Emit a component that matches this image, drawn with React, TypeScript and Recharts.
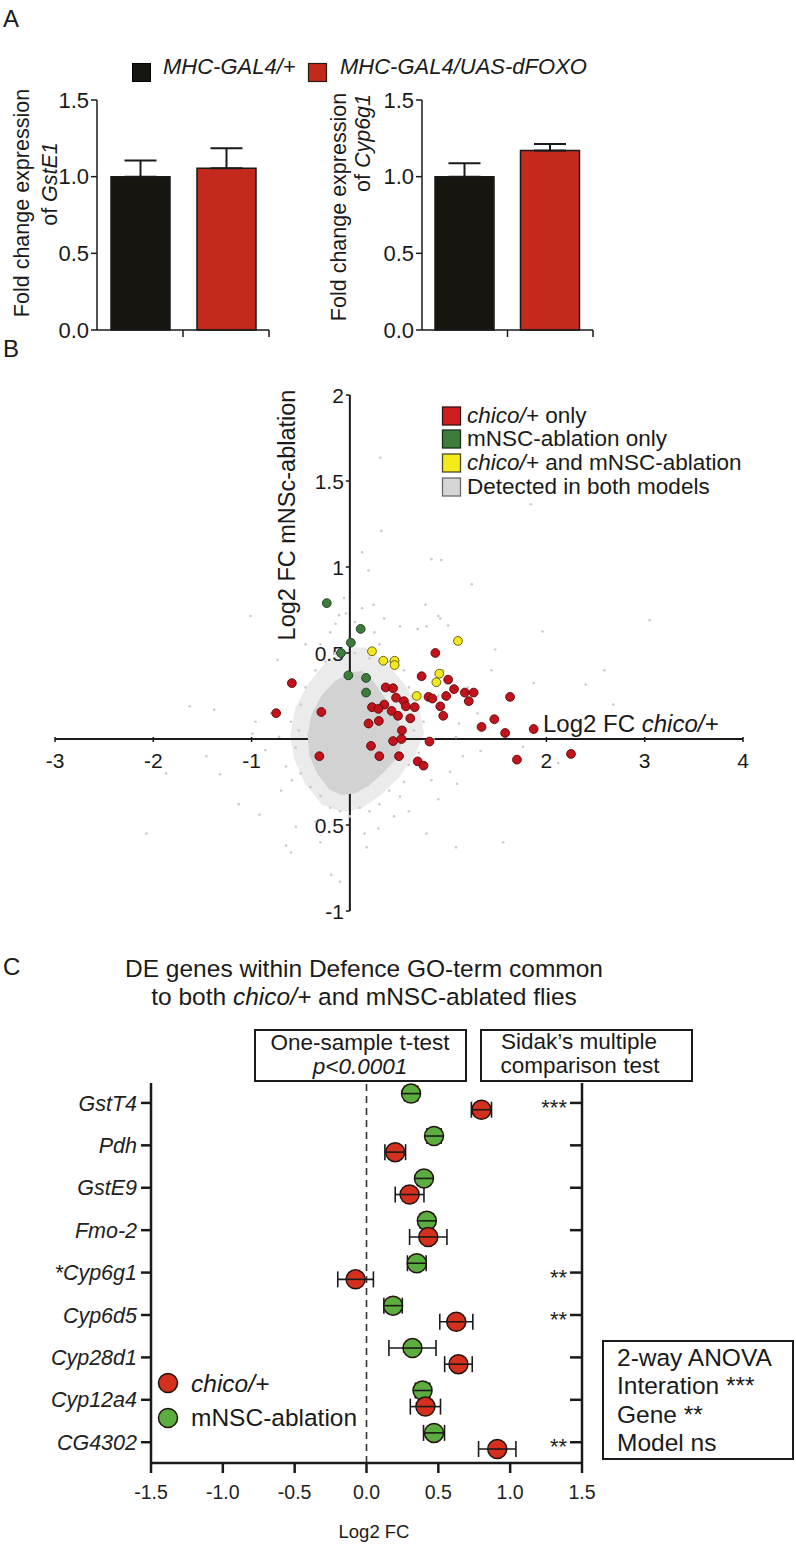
import React from 'react';
import {
  BarChart, Bar, XAxis, YAxis, ErrorBar, Cell,
  ScatterChart, Scatter, ReferenceLine,
} from 'recharts';

const FONT = "'Liberation Sans', Arial, Helvetica, sans-serif";
const INK = '#1a1a1a';

// ---------------- Panel A data ----------------
const groupsA = ['MHC-GAL4/+', 'MHC-GAL4/UAS-dFOXO'];
const gstE1Mean = [1.0, 1.055];
const gstE1Sem = [0.105, 0.13];
const cyp6g1Mean = [1.0, 1.17];
const cyp6g1Sem = [0.087, 0.043];
const yTicksA = [0, 0.5, 1.0, 1.5];
const groupColorsA = ['#17150f', '#c42a1b'];

// ---------------- Panel B data (log2 FC chico/+ , log2 FC mNSC-ablation) ----------------
const chicoOnly: number[][] = [
  [0.87, 0.50], [-0.59, 0.325], [0.73, 0.365], [1.00, 0.345], [0.365, 0.30], [0.44, 0.295],
  [1.06, 0.29], [1.17, 0.27], [1.26, 0.27], [1.63, 0.245], [0.80, 0.245], [0.84, 0.235],
  [0.98, 0.25], [1.21, 0.22], [0.47, 0.24], [0.55, 0.22], [0.57, 0.19], [0.66, 0.185],
  [0.92, 0.19], [0.35, 0.20], [0.225, 0.185], [0.29, 0.175], [0.425, 0.163], [0.49, 0.135],
  [0.615, 0.12], [0.95, 0.135], [0.295, 0.105], [0.19, 0.09], [0.53, 0.05], [-0.29, 0.157],
  [-0.75, 0.15], [1.47, 0.115], [1.34, 0.07], [1.58, 0.035], [1.87, 0.058], [0.44, -0.012],
  [0.525, 0.0], [0.81, -0.015], [0.215, -0.04], [-0.31, -0.10], [0.30, -0.10], [0.50, -0.10],
  [0.69, -0.13], [0.75, -0.155], [1.70, -0.12], [2.25, -0.087],
];
const mnscOnly: number[][] = [
  [-0.235, 0.79], [0.11, 0.64], [0.01, 0.56], [-0.09, 0.50], [-0.015, 0.37], [0.165, 0.355], [0.165, 0.27],
];
const bothModels: number[][] = [
  [1.10, 0.57], [0.225, 0.51], [0.34, 0.455], [0.455, 0.455], [0.455, 0.43], [0.91, 0.38], [0.88, 0.33], [0.68, 0.25],
];
const detectedDots: number[][] = [
  [0.31, 1.635], [1.84, 1.365], [0.32, 1.21], [0.125, 1.085], [0.83, 1.045], [0.93, 1.04], [0.19, 0.98],
  [1.24, 0.90], [-1.01, 0.715], [-0.06, 0.82], [0.24, 0.78], [0.77, 0.78], [0.90, 0.715], [0.92, 0.70],
  [1.0, 0.66], [0.51, 0.655], [0.69, 0.64], [0.78, 0.655], [-0.11, 0.72], [-0.04, 0.73], [-0.145, 0.67],
  [0.125, 0.76], [-2.07, -0.55], [-1.87, -0.20], [-1.63, 0.19], [-1.32, -0.205], [-1.38, 0.17],
  [-1.13, -0.38], [-0.92, -0.44], [-0.735, 0.46], [-0.65, -0.62], [-0.6, -0.66], [-0.55, -0.51],
  [-0.19, -0.79], [-0.10, -0.83], [0.17, -0.63], [0.29, -0.52], [0.78, -0.55], [1.08, -0.63],
  [1.56, -0.60], [1.96, 0.625], [2.59, 0.40], [3.05, 0.69], [2.40, 0.315], [1.87, 0.325], [1.48, 0.52],
  [1.44, 0.40], [1.76, -0.045], [1.33, -0.07], [1.08, 0.01], [-1.46, -0.10], [-0.99, 0.03], [-0.96, 0.10],
  [-0.86, -0.065], [-0.72, 0.013], [-0.65, -0.16], [-0.59, -0.24], [-0.52, 0.05], [2.68, 0.20],
  [2.12, -0.14], [1.11, 0.09], [1.02, -0.19], [1.09, -0.26], [0.51, -0.335], [0.83, -0.24],
  [-0.5, 0.2], [-0.45, 0.3], [-0.35, 0.4], [-0.25, 0.45], [-0.15, 0.5], [-0.3, 0.55], [0.05, 0.5],
  [0.2, 0.47], [0.3, 0.55], [0.4, 0.45], [0.55, 0.4], [0.6, 0.3], [0.7, 0.35], [0.65, 0.05], [0.75, 0.1],
  [0.85, 0.0], [0.7, -0.08], [0.6, -0.15], [0.55, -0.25], [0.4, -0.3], [0.3, -0.38], [0.2, -0.42],
  [0.1, -0.4], [0.0, -0.45], [-0.1, -0.42], [-0.2, -0.4], [-0.3, -0.33], [-0.4, -0.28], [-0.5, -0.2],
  [-0.55, -0.05], [-0.6, 0.1], [-0.7, -0.3], [-0.8, 0.15], [0.9, 0.25], [0.95, 0.4], [1.2, 0.3],
  [1.3, 0.15], [0.0, 0.58], [-0.2, 0.62], [0.45, -0.45], [0.6, -0.42], [-0.35, -0.48], [0.15, -0.55],
  [0.35, 0.7], [0.05, 0.68], [1.15, -0.1], [0.9, -0.35], [-0.45, 0.55], [-0.3, -0.6], [0.25, 0.62],
];
// outline of the dense cloud of detected genes
const cloudCore: number[][] = [
  [-0.42, 0.02], [-0.38, 0.14], [-0.28, 0.25], [-0.15, 0.33], [0.0, 0.38], [0.12, 0.39], [0.22, 0.34],
  [0.32, 0.26], [0.42, 0.17], [0.5, 0.08], [0.52, -0.02], [0.45, -0.12], [0.32, -0.2], [0.18, -0.27],
  [0.05, -0.31], [-0.08, -0.32], [-0.2, -0.29], [-0.32, -0.2], [-0.4, -0.1],
];
const cloudHalo: number[][] = [
  [-0.6, 0.02], [-0.55, 0.18], [-0.42, 0.32], [-0.25, 0.44], [-0.05, 0.52], [0.15, 0.53], [0.35, 0.45],
  [0.55, 0.32], [0.7, 0.18], [0.75, 0.03], [0.65, -0.1], [0.5, -0.22], [0.32, -0.32], [0.12, -0.4],
  [-0.08, -0.42], [-0.28, -0.38], [-0.45, -0.26], [-0.56, -0.12],
];
const xTicksB = [-3, -2, -1, 2, 3, 4];
const xTickLabelsB = ['-3', '-2', '-1', '2', '3', '4'];
const yTicksB = [2, 1.5, 1, 0.5, -0.5, -1];
const yTickLabelsB = ['2', '1.5', '1', '0.5', '0.5', '-1'];
const xDomainB = [-3, 4];
const yDomainB = [-1, 2];

// ---------------- Panel C data ----------------
const genes = ['GstT4', 'Pdh', 'GstE9', 'Fmo-2', '*Cyp6g1', 'Cyp6d5', 'Cyp28d1', 'Cyp12a4', 'CG4302'];
const chicoFC = [0.80, 0.20, 0.30, 0.43, -0.076, 0.625, 0.64, 0.41, 0.91];
const chicoSEM = [0.07, 0.072, 0.10, 0.13, 0.124, 0.115, 0.096, 0.105, 0.13];
const mnscFC = [0.31, 0.47, 0.40, 0.42, 0.35, 0.185, 0.32, 0.39, 0.47];
const mnscSEM = [0.045, 0.049, 0.035, 0.045, 0.065, 0.064, 0.164, 0.05, 0.073];
const sidak = ['***', '', '', '', '**', '**', '', '', '**'];
const xTicksC = [-1.5, -1.0, -0.5, 0, 0.5, 1.0, 1.5];

const toPts = (arr: number[][]) => arr.map(([x, y]) => ({ x, y }));

// ---------------- Panel A ----------------
function FoldBar({ left, width, plotLeft, plotRight, means, sems }: any) {
  const data = groupsA.map((name, i) => ({ name, mean: means[i], err: [0, sems[i]] }));
  const halfBand = (plotRight - plotLeft) / (2 * groupsA.length);
  const BoundaryTick = (p: any) => (
    <line x1={p.x + halfBand} y1={p.y} x2={p.x + halfBand} y2={p.y + 7} stroke={INK} strokeWidth={1.5} />
  );
  return (
    <div style={{ position: 'absolute', left, top: 80 }}>
      <BarChart width={width} height={280} data={data}
        margin={{ top: 20, right: width - plotRight, bottom: 0, left: 0 }}>
        <XAxis dataKey="name" height={30} interval={0} tickLine={false} tickSize={0} tickMargin={0}
          tick={BoundaryTick} axisLine={{ stroke: INK, strokeWidth: 1.5 }} />
        <YAxis type="number" domain={[0, 1.5]} ticks={yTicksA} width={plotLeft} interval={0}
          tickFormatter={(v: number) => v.toFixed(1)} tickSize={6} tickMargin={2}
          tick={{ fontSize: 22, fill: INK, fontFamily: FONT }}
          axisLine={{ stroke: INK, strokeWidth: 1.5 }} tickLine={{ stroke: INK, strokeWidth: 1.5 }} />
        <Bar dataKey="mean" barSize={59} stroke={INK} strokeWidth={1.5} isAnimationActive={false}>
          {data.map((d, i) => <Cell key={d.name} fill={groupColorsA[i]} />)}
          <ErrorBar dataKey="err" width={16} stroke={INK} strokeWidth={2} direction="y" />
        </Bar>
      </BarChart>
    </div>
  );
}

// ---------------- Panel B ----------------
const noShape = () => <g />;
const XTickMark = (p: any) => (
  <g>
    <line x1={p.cx} y1={p.cy - 2} x2={p.cx} y2={p.cy + 3} stroke={INK} strokeWidth={1.5} />
    <text x={p.cx} y={p.cy + 29} textAnchor="middle" fontSize={21} fill={INK} fontFamily={FONT}>
      {p.payload?.label ?? p.label}
    </text>
  </g>
);
const YTickMark = (p: any) => (
  <g>
    <line x1={p.cx - 4} y1={p.cy} x2={p.cx} y2={p.cy} stroke={INK} strokeWidth={1.5} />
    <text x={p.cx - 6} y={p.cy + 7.5} textAnchor="end" fontSize={21} fill={INK} fontFamily={FONT}>
      {p.payload?.label ?? p.label}
    </text>
  </g>
);
const grayDot = (p: any) => <circle cx={p.cx} cy={p.cy} r={1.3} fill="#cbcbcb" />;
const mkDot = (fill: string, stroke: string) => (p: any) =>
  <circle cx={p.cx} cy={p.cy} r={4.4} fill={fill} stroke={stroke} strokeWidth={0.9} />;

function PanelB() {
  const xAxisLine = [{ x: xDomainB[0], y: 0 }, { x: xDomainB[1], y: 0 }];
  const yAxisLine = [{ x: 0, y: yDomainB[0] }, { x: 0, y: yDomainB[1] }];
  const xTickData = xTicksB.map((v, i) => ({ x: v, y: 0, label: xTickLabelsB[i] }));
  const yTickData = yTicksB.map((v, i) => ({ x: 0, y: v, label: yTickLabelsB[i] }));
  return (
    <div style={{ position: 'absolute', left: 0, top: 340 }}>
      <ScatterChart width={796} height={600} margin={{ top: 55, right: 53, bottom: 29, left: 55 }}>
        <XAxis type="number" dataKey="x" domain={xDomainB} hide />
        <YAxis type="number" dataKey="y" domain={yDomainB} hide />
        <Scatter data={toPts(cloudHalo)} shape={noShape} lineJointType="linearClosed"
          line={{ stroke: '#ebebeb', fill: '#ebebeb', strokeWidth: 1 }} isAnimationActive={false} />
        <Scatter data={xAxisLine} shape={noShape} line={{ stroke: INK, strokeWidth: 2 }} isAnimationActive={false} />
        <Scatter data={yAxisLine} shape={noShape} line={{ stroke: INK, strokeWidth: 2 }} isAnimationActive={false} />
        <Scatter data={xTickData} shape={XTickMark} isAnimationActive={false} />
        <Scatter data={yTickData} shape={YTickMark} isAnimationActive={false} />
        <Scatter data={toPts(cloudCore)} shape={noShape} lineJointType="linearClosed"
          line={{ stroke: '#d2d2d2', fill: '#d2d2d2', strokeWidth: 2 }} isAnimationActive={false} />
        <Scatter data={toPts(detectedDots)} shape={grayDot} isAnimationActive={false} />
        <Scatter data={toPts(chicoOnly)} shape={mkDot('#c3121c', '#5a0a0a')} isAnimationActive={false} />
        <Scatter data={toPts(mnscOnly)} shape={mkDot('#3e7c3c', '#1c3a1c')} isAnimationActive={false} />
        <Scatter data={toPts(bothModels)} shape={mkDot('#f3e71e', '#5e5800')} isAnimationActive={false} />
      </ScatterChart>
    </div>
  );
}

// ---------------- Panel C ----------------
const GREEN_OFFSET = -0.22;
const RED_OFFSET = 0.16;
const mkBall = (fill: string) => (p: any) => (
  <g>
    <circle cx={p.cx} cy={p.cy} r={9.5} fill={fill} stroke="#24140e" strokeWidth={1.5} />
    <line x1={p.cx - 9.5} y1={p.cy} x2={p.cx + 9.5} y2={p.cy} stroke={INK} strokeWidth={1.6} />
  </g>
);
const SidakTick = (p: any) => {
  const idx = Math.round(p.payload?.value ?? 0);
  const label = sidak[idx] || '';
  return (
    <g>
      <line x1={p.x - 12} y1={p.y} x2={p.x} y2={p.y} stroke={INK} strokeWidth={2.5} />
      {label ? (
        <text x={p.x - 15} y={p.y + 12} textAnchor="end" fontSize={22} fill="#222" fontFamily={FONT}>{label}</text>
      ) : null}
    </g>
  );
};

function PanelC() {
  const chicoData = genes.map((g, i) => ({ gene: g, x: chicoFC[i], y: i + RED_OFFSET, err: chicoSEM[i] }));
  const mnscData = genes.map((g, i) => ({ gene: g, x: mnscFC[i], y: i + GREEN_OFFSET, err: mnscSEM[i] }));
  const geneTicks = genes.map((_, i) => i);
  const yDomain = [-0.47, 8.49];
  return (
    <div style={{ position: 'absolute', left: 0, top: 1020 }}>
      <ScatterChart width={796} height={526} margin={{ top: 63, right: 174, bottom: 43, left: 0 }}>
        <XAxis type="number" dataKey="x" domain={[-1.5, 1.5]} ticks={xTicksC} interval={0} allowDataOverflow
          tickFormatter={(v: number) => v.toFixed(1)} height={40} tickSize={10} tickMargin={12}
          tick={{ fontSize: 19.5, fill: '#222', fontFamily: FONT }}
          axisLine={{ stroke: INK, strokeWidth: 2.5 }} tickLine={{ stroke: INK, strokeWidth: 2.5 }} />
        <YAxis yAxisId="left" type="number" dataKey="y" domain={yDomain} reversed ticks={geneTicks}
          interval={0} allowDataOverflow width={151} tickSize={10} tickMargin={4}
          tickFormatter={(v: number) => genes[Math.round(v)]}
          tick={{ fontSize: 21.5, fill: '#222', fontStyle: 'italic', fontFamily: FONT }}
          axisLine={{ stroke: INK, strokeWidth: 2.5 }} tickLine={{ stroke: INK, strokeWidth: 2.5 }} />
        <YAxis yAxisId="right" orientation="right" type="number" domain={yDomain} reversed ticks={geneTicks}
          interval={0} allowDataOverflow width={40} tickSize={0} tickMargin={0} tickLine={false}
          tick={SidakTick} axisLine={{ stroke: INK, strokeWidth: 2.5 }} />
        <ReferenceLine yAxisId="left" x={0} stroke="#333" strokeWidth={1.6} strokeDasharray="7 5" />
        <Scatter yAxisId="left" data={mnscData} shape={mkBall('#5aad3e')} isAnimationActive={false}>
          <ErrorBar dataKey="err" direction="x" width={8} stroke={INK} strokeWidth={1.6} />
        </Scatter>
        <Scatter yAxisId="left" data={chicoData} shape={mkBall('#d5301e')} isAnimationActive={false}>
          <ErrorBar dataKey="err" direction="x" width={8} stroke={INK} strokeWidth={1.6} />
        </Scatter>
      </ScatterChart>
    </div>
  );
}

// ---------------- Text overlay ----------------
function Overlay() {
  const t = { fontFamily: FONT, fill: INK } as any;
  return (
    <svg width={796} height={1546} style={{ position: 'absolute', left: 0, top: 0, pointerEvents: 'none' }}>
      {/* Panel A */}
      <text x={3} y={27} fontSize={24} {...t}>A</text>
      <rect x={132.5} y={63.5} width={18} height={18} fill={groupColorsA[0]} stroke="#000" strokeWidth={1} />
      <text x={163} y={74} fontSize={22} fontStyle="italic" {...t}>{groupsA[0]}</text>
      <rect x={308.5} y={63.5} width={18} height={18} fill={groupColorsA[1]} stroke="#2a1a10" strokeWidth={1.2} />
      <text x={340} y={74} fontSize={22} fontStyle="italic" {...t}>{groupsA[1]}</text>
      <text transform="translate(22 203) rotate(-90)" textAnchor="middle" dominantBaseline="central" fontSize={21.5} {...t}>Fold change expression</text>
      <text transform="translate(50 184) rotate(-90)" textAnchor="middle" dominantBaseline="central" fontSize={21.5} {...t}>of <tspan fontStyle="italic">GstE1</tspan></text>
      <text transform="translate(339 207) rotate(-90)" textAnchor="middle" dominantBaseline="central" fontSize={21.5} {...t}>Fold change expression</text>
      <text transform="translate(363 143) rotate(-90)" textAnchor="middle" dominantBaseline="central" fontSize={21.5} {...t}>of <tspan fontStyle="italic">Cyp6g1</tspan></text>

      {/* Panel B */}
      <text x={3} y={357} fontSize={24} {...t}>B</text>
      <text transform="translate(287 515) rotate(-90)" textAnchor="middle" dominantBaseline="central" fontSize={23.5} {...t}>Log2 FC mNSc-ablation</text>
      <text x={543} y={732} fontSize={24} {...t}>Log2 FC <tspan fontStyle="italic">chico/+</tspan></text>
      <rect x={442.5} y={407} width={18} height={18} fill="#d01e1e" stroke="#3a1010" strokeWidth={1.3} />
      <rect x={442.5} y={430} width={18} height={18} fill="#3e7c3c" stroke="#1c2e1c" strokeWidth={1.3} />
      <rect x={442.5} y={454} width={18} height={18} fill="#f5ea1a" stroke="#4a4a20" strokeWidth={1.3} />
      <rect x={442.5} y={478} width={18} height={18} fill="#d6d6d6" stroke="#6a6a6a" strokeWidth={1.3} />
      <text x={467} y={423} fontSize={22.5} {...t}><tspan fontStyle="italic">chico/+</tspan> only</text>
      <text x={467} y={446} fontSize={22.5} {...t}>mNSC-ablation only</text>
      <text x={467} y={470} fontSize={22.5} {...t}><tspan fontStyle="italic">chico/+</tspan> and mNSC-ablation</text>
      <text x={467} y={494} fontSize={22.5} {...t}>Detected in both models</text>

      {/* Panel C */}
      <text x={3} y={975} fontSize={24} {...t}>C</text>
      <text x={364} y={977} textAnchor="middle" fontSize={24.5} {...t}>DE genes within Defence GO-term common</text>
      <text x={364} y={1005} textAnchor="middle" fontSize={24.5} {...t}>to both <tspan fontStyle="italic">chico/+</tspan> and mNSC-ablated flies</text>
      <rect x={255} y={1030} width={211} height={51} fill="#fff" stroke={INK} strokeWidth={2} />
      <text x={360} y={1050} textAnchor="middle" fontSize={22.5} {...t}>One-sample t-test</text>
      <text x={360} y={1074} textAnchor="middle" fontSize={22.5} fontStyle="italic" {...t}>p&lt;0.0001</text>
      <rect x={481} y={1030} width={211} height={51} fill="#fff" stroke={INK} strokeWidth={2} />
      <text x={579} y={1049} textAnchor="middle" fontSize={22.5} {...t}>Sidak’s multiple</text>
      <text x={580} y={1073} textAnchor="middle" fontSize={22.5} {...t}>comparison test</text>
      <circle cx={168} cy={1383} r={9.5} fill="#d5301e" stroke="#24140e" strokeWidth={1.5} />
      <circle cx={168} cy={1418} r={9.5} fill="#5aad3e" stroke="#24140e" strokeWidth={1.5} />
      <text x={191} y={1392} fontSize={24.5} fontStyle="italic" {...t}>chico/+</text>
      <text x={191} y={1426} fontSize={24.5} {...t}>mNSC-ablation</text>
      <rect x={603} y={1341} width={190} height={118} fill="#fff" stroke={INK} strokeWidth={2} />
      <text x={617} y={1366} fontSize={24.5} {...t}>2-way ANOVA</text>
      <text x={617} y={1394} fontSize={24.5} {...t}>Interation ***</text>
      <text x={617} y={1423} fontSize={24.5} {...t}>Gene **</text>
      <text x={617} y={1451} fontSize={24.5} {...t}>Model ns</text>
      <text x={374} y={1538} textAnchor="middle" fontSize={18.5} {...t}>Log2 FC</text>
    </svg>
  );
}

export default function App() {
  return (
    <div style={{ position: 'absolute', left: 0, top: 0, width: 796, height: 1546, background: '#fff', fontFamily: FONT }}>
      <FoldBar left={0} width={300} plotLeft={97} plotRight={269} means={gstE1Mean} sems={gstE1Sem} />
      <FoldBar left={300} width={310} plotLeft={122} plotRight={293} means={cyp6g1Mean} sems={cyp6g1Sem} />
      <PanelB />
      <PanelC />
      <Overlay />
    </div>
  );
}
